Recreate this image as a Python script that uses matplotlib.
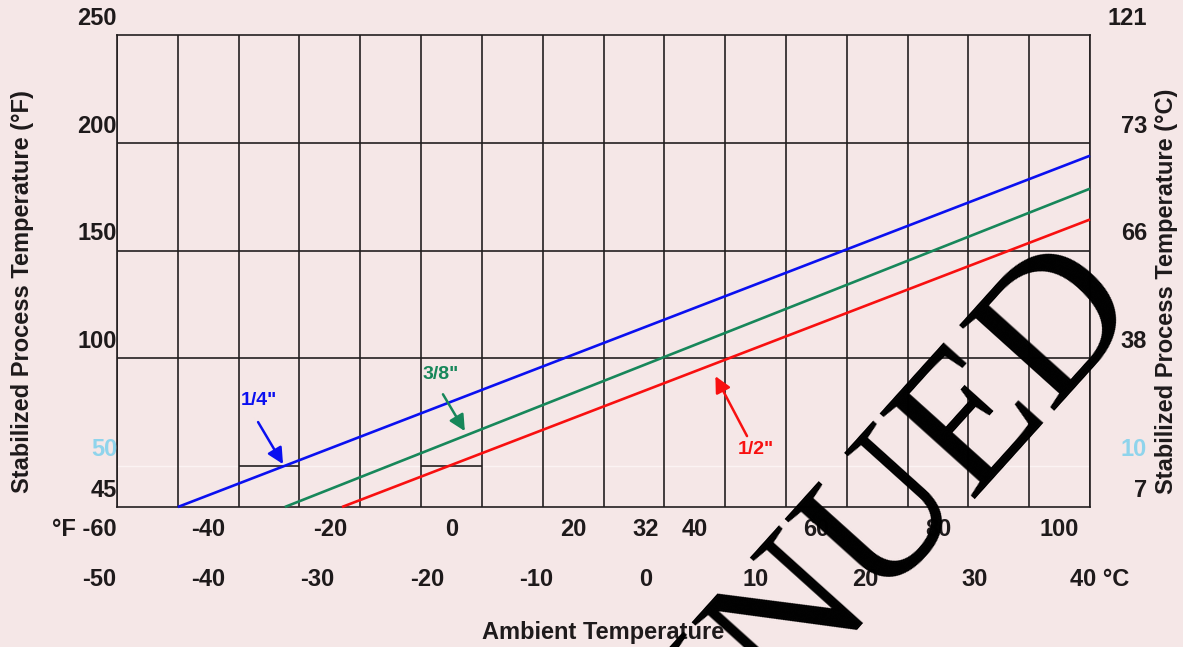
import numpy as np
import matplotlib
matplotlib.use("Agg")
import matplotlib.pyplot as plt

plt.rcParams['font.family'] = ['Liberation Sans', 'DejaVu Sans']
plt.rcParams['font.weight'] = 'bold'

# pipe sizes: start and end of each line (ambient F, process F)
sizes = ['1/4"', '3/8"', '1/2"']
colors = ['#0a10f0', '#17875a', '#f81010']
x_start = [-45, -27.4, -18]
x_end = [105, 105, 105]
y_start = [45, 45, 45]
y_end = [194, 178.7, 164.4]

# label text / arrow tail / arrow head for each size
label_xy = [(-31.6, 80.6), (-1.7, 92.6), (50.1, 57.9)]
arrow_tail = [(-31.8, 70.4), (-1.4, 83.3), (48.6, 63.9)]
arrow_head = [(-27.7, 50.9), (2.2, 66.2), (43.4, 91.7)]

# axis labels
f_ticks = [-60, -40, -20, 0, 20, 32, 40, 60, 80, 100]
c_ticks = [-50, -40, -30, -20, -10, 0, 10, 20, 30, 40]
left_ticks = [250, 200, 150, 100, 50, 45]
right_labels = ['121', '73', '66', '38', '10', '7']
grid_x = np.arange(-55, 106, 10)

frame = '#231f20'
bg = '#f5e7e7'
light = '#8fd4ec'


def fwd(y):
    y = np.asarray(y, dtype=float)
    return np.where(y < 50, (y - 45) * 19 / 5, y - 31)


def inv(t):
    t = np.asarray(t, dtype=float)
    return np.where(t < 19, 45 + t * 5 / 19, t + 31)


fig = plt.figure(figsize=(11.83, 6.47), dpi=100, facecolor=bg)
ax = fig.add_axes([117 / 1183, 1 - 507 / 647, (1090 - 117) / 1183, (507 - 35) / 647])
ax.set_facecolor(bg)
ax.set_yscale('function', functions=(fwd, inv))
ax.set_xlim(-55, 105)
ax.set_ylim(45, 250)
ax.set_xticks([])
ax.set_yticks([])
ax.minorticks_off()
for s in ax.spines.values():
    s.set_color(frame)
    s.set_linewidth(1.2)

# grid
ax.vlines(grid_x, 45, 250, color=frame, lw=1.2, zorder=1)
ax.hlines([100, 150, 200], -55, 105, color=frame, lw=1.2, zorder=1)
ax.hlines(50, -55, 105, color='#fbf3f3', lw=1.0, zorder=0.5)
ax.hlines([50, 50], [-35, -5], [-25, 5], color=frame, lw=1.2, zorder=1)

# lines + labels
for i in range(3):
    ax.plot([x_start[i], x_end[i]], [y_start[i], y_end[i]], color=colors[i],
            lw=1.9, solid_capstyle='butt', zorder=3, clip_on=False)
    ax.text(label_xy[i][0], label_xy[i][1], sizes[i], color=colors[i],
            fontsize=14, ha='center', va='center', zorder=4)
    ax.annotate('', xy=arrow_head[i], xytext=arrow_tail[i],
                arrowprops=dict(arrowstyle='-|>', color=colors[i], lw=1.8,
                                mutation_scale=24, shrinkA=0, shrinkB=0),
                zorder=4)

# left / right y labels
ytr = ax.get_yaxis_transform()
for v, rl in zip(left_ticks, right_labels):
    col = light if v == 50 else '#1e1a1b'
    ax.annotate(str(v), xy=(0, v), xycoords=ytr, xytext=(0, 12),
                textcoords='offset points', ha='right', va='center',
                fontsize=17, color=col)
    ax.annotate(rl, xy=(1, v), xycoords=ytr, xytext=(41, 12),
                textcoords='offset points', ha='right', va='center',
                fontsize=17, color=col)

# bottom labels
xtr = ax.get_xaxis_transform()
for f in f_ticks:
    if f == -60:
        ax.annotate('°F -60', xy=(-55, 0), xycoords=xtr, xytext=(0, -16),
                    textcoords='offset points', ha='right', va='center',
                    fontsize=17, color='#1e1a1b')
    else:
        ax.annotate(str(f), xy=(f, 0), xycoords=xtr, xytext=(0, -16),
                    textcoords='offset points', ha='center', va='center',
                    fontsize=17, color='#1e1a1b')
for c in c_ticks:
    xf = c * 9 / 5 + 32
    if c == 40:
        ax.annotate('40 °C', xy=(xf, 0), xycoords=xtr, xytext=(-10, -52.5),
                    textcoords='offset points', ha='left', va='center',
                    fontsize=17, color='#1e1a1b', annotation_clip=False)
    else:
        ax.annotate(str(c), xy=(xf, 0), xycoords=xtr, xytext=(0, -52.5),
                    textcoords='offset points', ha='center', va='center',
                    fontsize=17, color='#1e1a1b', annotation_clip=False)

fig.text(603 / 1183, 1 - 632 / 647, 'Ambient Temperature', ha='center',
         va='center', fontsize=17, color='#1e1a1b')
fig.text(22.5 / 1183, 1 - 292 / 647, 'Stabilized Process Temperature (°F)',
         rotation=90, ha='center', va='center', fontsize=17, color='#1e1a1b')
fig.text(1167 / 1183, 1 - 291 / 647, 'Stabilized Process Temperature (°C)',
         rotation=90, ha='center', va='center', fontsize=17, color='#1e1a1b')

# watermark
fig.text(1144 / 1183, 1 - 306 / 647, 'DISCONTINUED', rotation=48,
         rotation_mode='anchor', ha='right', va='baseline', fontsize=140,
         family='Liberation Serif', fontweight='normal', color='black',
         zorder=10)

fig.savefig('out.png', dpi=100, facecolor=bg)
